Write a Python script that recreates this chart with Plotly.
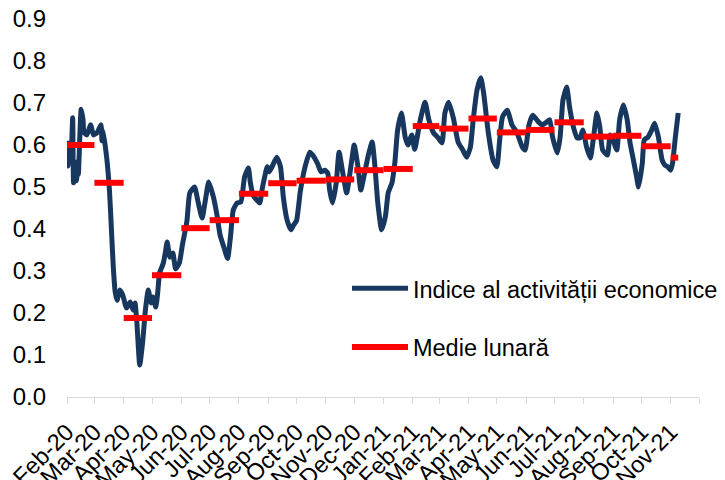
import pandas as pd
import plotly.graph_objects as go

# ---- data ----
start_date = "2020-02-01"
# observation day (days since start_date) and activity index
obs_day = [0, 1, 2, 4, 6, 7, 8, 10, 11, 12, 15, 17, 18, 21, 25, 28, 32, 36, 37, 38,
           42, 45, 47, 49, 51, 53, 56, 59, 63, 67, 70, 72, 74, 77, 80, 83, 86, 89, 91, 94,
           96, 98, 102, 104, 106, 109, 112, 115, 119, 122, 127, 130, 135, 139, 143, 147, 150, 155, 159, 162,
           166, 170, 173, 176, 180, 184, 188, 192, 194, 197, 201, 204, 207, 212, 214, 217, 222, 226, 229, 233,
           237, 240, 243, 247, 252, 257, 260, 265, 269, 273, 276, 278, 281, 285, 288, 292, 296, 301, 304, 308,
           311, 315, 319, 323, 326, 329, 333, 337, 340, 344, 347, 350, 354, 358, 361, 365, 368, 374, 379, 383,
           388, 393, 397, 400, 404, 409, 414, 419, 423, 427, 430, 434, 438, 441, 446, 451, 455, 458, 461, 466,
           471, 476, 482, 485, 489, 493, 499, 503, 508, 511, 514, 519, 522, 525, 529, 532, 536, 540, 543, 546,
           550, 554, 557, 561, 564, 567, 572, 575, 578, 582, 585, 589, 593, 596, 599, 603, 605, 609, 611, 615,
           619, 622, 626, 630, 633, 636, 639, 641, 644, 647]
activity = [0.61, 0.55, 0.58, 0.56, 0.665, 0.51, 0.52, 0.515, 0.56, 0.53, 0.685, 0.66, 0.63, 0.624, 0.648, 0.624, 0.63, 0.648, 0.61, 0.636,
            0.57, 0.49, 0.40, 0.31, 0.25, 0.23, 0.255, 0.243, 0.212, 0.226, 0.207, 0.224, 0.176, 0.076, 0.129, 0.207, 0.255, 0.224, 0.238, 0.214,
            0.248, 0.295, 0.319, 0.343, 0.369, 0.333, 0.343, 0.305, 0.32, 0.36, 0.42, 0.486, 0.50, 0.462, 0.426, 0.476, 0.512, 0.476, 0.43, 0.386,
            0.357, 0.33, 0.38, 0.445, 0.462, 0.464, 0.524, 0.545, 0.512, 0.48, 0.469, 0.462, 0.50, 0.548, 0.536, 0.548, 0.571, 0.548, 0.476, 0.421,
            0.398, 0.41, 0.42, 0.49, 0.548, 0.583, 0.576, 0.557, 0.536, 0.54, 0.533, 0.493, 0.462, 0.51, 0.583, 0.533, 0.486, 0.557, 0.60, 0.548,
            0.493, 0.533, 0.576, 0.607, 0.548, 0.462, 0.398, 0.429, 0.486, 0.51, 0.557, 0.636, 0.676, 0.619, 0.60, 0.624, 0.59, 0.66, 0.702, 0.66,
            0.629, 0.617, 0.605, 0.676, 0.702, 0.664, 0.607, 0.588, 0.571, 0.595, 0.66, 0.731, 0.76, 0.724, 0.629, 0.564, 0.548, 0.612, 0.667, 0.683,
            0.648, 0.631, 0.595, 0.588, 0.648, 0.671, 0.655, 0.648, 0.655, 0.66, 0.619, 0.581, 0.619, 0.707, 0.738, 0.69, 0.643, 0.617, 0.617, 0.636,
            0.595, 0.569, 0.612, 0.676, 0.643, 0.588, 0.576, 0.624, 0.612, 0.588, 0.66, 0.695, 0.66, 0.605, 0.571, 0.524, 0.50, 0.557, 0.612, 0.619,
            0.636, 0.652, 0.619, 0.564, 0.552, 0.548, 0.54, 0.557, 0.619, 0.676]

month_labels = ["Feb-20", "Mar-20", "Apr-20", "May-20", "Jun-20", "Jul-20", "Aug-20", "Sep-20",
                "Oct-20", "Nov-20", "Dec-20", "Jan-21", "Feb-21", "Mar-21", "Apr-21", "May-21",
                "Jun-21", "Jul-21", "Aug-21", "Sep-21", "Oct-21", "Nov-21"]
monthly_mean = [0.60, 0.51, 0.188, 0.29, 0.402, 0.421, 0.484, 0.509, 0.515, 0.518, 0.54, 0.543,
                0.645, 0.639, 0.663, 0.63, 0.636, 0.654, 0.62, 0.622, 0.597, 0.57]

name_line = "Indice al activității economice"
name_mean = "Medie lunară"

# ---- build ----
t0 = pd.Timestamp(start_date)
dates = t0 + pd.to_timedelta(obs_day, unit="D")
last_date = dates[-1]

month_starts = pd.date_range(start_date, periods=len(month_labels) + 1, freq="MS")

seg_x, seg_y = [], []
for i, v in enumerate(monthly_mean):
    s = month_starts[i]
    e = min(month_starts[i + 1], last_date)
    seg_x += [s, e, None]
    seg_y += [v, v, None]

NAVY = "#17375E"
RED = "#FF0000"
FONT = "Liberation Sans, Arial, sans-serif"

fig = go.Figure()
fig.add_trace(go.Scatter(x=dates, y=activity, mode="lines", name=name_line,
                         line=dict(color=NAVY, width=5, shape="spline", smoothing=0.5),
                         legendgroup="a"))
fig.add_trace(go.Scatter(x=seg_x, y=seg_y, mode="lines", name=name_mean,
                         line=dict(color=RED, width=6), legendgroup="b", connectgaps=False))

# the page body has an 8px default margin, so the figure is 8px smaller
fig.update_layout(
    width=717, height=472,
    margin=dict(l=59, r=26, t=11, b=83, autoexpand=False),
    paper_bgcolor="white", plot_bgcolor="white",
    font=dict(family=FONT, size=23, color="black"),
    showlegend=True,
    legend=dict(x=0.443, y=0.345, xanchor="left", yanchor="top",
                bgcolor="rgba(0,0,0,0)", font=dict(size=23.5, family=FONT),
                traceorder="grouped", tracegroupgap=25, itemwidth=56),
    xaxis=dict(type="date", range=[month_starts[0], month_starts[-1]],
               tickmode="array", tickvals=list(month_starts),
               ticktext=month_labels + [""], tickangle=-45,
               showline=True, linecolor="#D9D9D9", linewidth=1,
               ticks="outside", ticklen=6, tickcolor="#D9D9D9",
               showgrid=False, zeroline=False, automargin=False,
               ticklabeloverflow="allow", ticklabelstandoff=5,
               tickfont=dict(size=23.5, family=FONT)),
    yaxis=dict(range=[0, 0.9], tickmode="array",
               tickvals=[0, 0.1, 0.2, 0.3, 0.4, 0.5, 0.6, 0.7, 0.8, 0.9],
               tickformat=".1f", showline=False, showgrid=False, zeroline=False,
               ticks="", ticklabelstandoff=20, automargin=False,
               ticklabeloverflow="allow",
               tickfont=dict(size=24, family=FONT)),
)

fig.write_html("out.html")
